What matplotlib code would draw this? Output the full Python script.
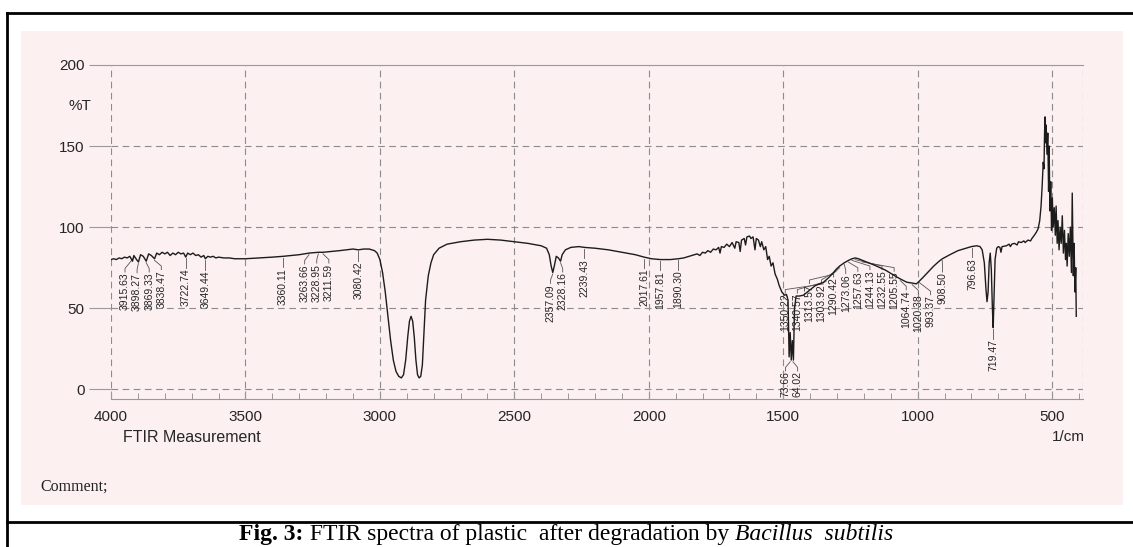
import numpy as np
import matplotlib
matplotlib.use("Agg")
import matplotlib.pyplot as plt
from matplotlib.lines import Line2D
from matplotlib.patches import Rectangle

# ---------------- data ----------------
wavenumber = [
    4000, 3990, 3980, 3970, 3960, 3950, 3940, 3930, 3920, 3915, 3905, 3898, 3890, 3880,
    3869, 3860, 3850, 3838, 3830, 3820, 3810, 3800, 3790, 3780, 3770, 3760, 3750, 3740,
    3730, 3722, 3715, 3705, 3695, 3685, 3675, 3665, 3655, 3649, 3640, 3630, 3620, 3610,
    3600, 3580, 3560, 3540, 3520, 3500, 3450, 3400, 3360, 3300, 3263, 3228, 3211, 3150,
    3100, 3080, 3060, 3040, 3030, 3020, 3010, 3000, 2990, 2980, 2970, 2960, 2950, 2940,
    2930, 2920, 2912, 2904, 2896, 2890, 2884, 2878, 2872, 2866, 2860, 2854, 2848, 2842,
    2836, 2830, 2820, 2810, 2800, 2780, 2750, 2700, 2650, 2600, 2550, 2500, 2450, 2400,
    2380, 2370, 2363, 2357, 2350, 2344, 2336, 2328, 2322, 2310, 2290, 2260, 2239, 2200,
    2150, 2100, 2050, 2017, 1990, 1957, 1920, 1890, 1870, 1850, 1830,
    1820, 1810, 1800, 1790, 1780, 1770, 1760, 1750, 1740, 1735, 1730, 1720, 1710, 1700,
    1690, 1680, 1675, 1665, 1660, 1655, 1645, 1640, 1635, 1625, 1620, 1612, 1605, 1600,
    1592, 1585, 1580, 1572, 1565, 1558, 1552, 1545, 1538, 1530, 1522, 1515, 1505, 1495,
    1488, 1482, 1478, 1474, 1470, 1466, 1462, 1458, 1452, 1440, 1425, 1410, 1395, 1380,
    1365, 1350, 1340, 1330, 1313, 1303, 1290, 1273, 1257, 1244, 1232, 1220, 1205, 1190,
    1175, 1160, 1140, 1120, 1100, 1080, 1064, 1040, 1020, 1005, 995, 980, 960, 940,
    920, 908, 880, 850, 820, 800, 780, 768, 760, 752, 746, 742, 738, 734, 730, 726,
    722, 719, 716, 712, 706, 700, 694, 690, 686, 670, 660, 655, 650, 640, 630, 625,
    615, 605, 600, 590, 580, 575, 566, 558, 552, 546, 541, 537, 533, 530, 528, 526,
    524, 522, 519, 516, 513, 511, 508, 505, 502, 499, 496, 492, 488, 485, 481, 478,
    474, 470, 466, 462, 458, 454, 450, 447, 444, 440, 436, 432, 428, 425, 421, 418,
    415, 412, 410,
]
transmittance = [
    80, 80.5, 80, 81, 80.5, 81.5, 81, 82, 79, 82.5, 80, 78.5, 83, 82,
    79, 83.5, 82.5, 80.5, 84, 83, 84.5, 83.5, 84.5, 82.5, 84, 83, 84.5, 83.5,
    84, 81.5, 84, 83, 84, 82.5, 83, 81.5, 82.5, 80.5, 82, 81.5, 82, 81,
    81.5, 81, 81, 80.5, 80.5, 80.5, 81, 81.5, 82, 83, 84, 84.5, 84.5, 85.5,
    86.5, 86, 86.5, 86.5, 86, 85.5, 84, 80, 72, 60, 45, 30, 18, 11,
    8, 7, 9, 18, 33, 42, 45, 42, 32, 18, 9, 7, 8, 15,
    35, 55, 70, 78, 83, 87, 89.5, 91, 92, 92.5, 92, 91, 90, 88.5,
    87, 83, 76, 72, 77, 82, 81, 79, 83, 86, 87.5, 88, 87.5, 87,
    86, 84.5, 83, 81.5, 80.5, 80, 80, 80.5, 81, 82, 83,
    83.5, 82.5, 84.5, 84, 85.5, 84.5, 86.5, 86, 87.5, 84, 88, 87.5, 89.5, 88,
    90.5, 87, 91, 90.5, 85, 92, 93, 89, 94, 94.5, 93, 94, 86, 93,
    92, 88, 91, 86, 88, 80, 82, 76, 78, 71, 68, 64, 60, 58,
    58.5, 55, 20, 35, 18, 30, 18, 50, 57.5, 57.5, 58, 60, 62, 64,
    65, 66, 67.5, 69, 72, 74, 76, 78, 79.5, 80.5, 81, 80.5, 79.5, 78.5,
    77.5, 76.5, 75, 73.5, 71.5, 69.5, 68, 66, 65.5, 65, 66.5, 69, 72.5, 76,
    79, 80.5, 83, 85.5, 87, 88, 88.5, 88, 86, 78, 62, 54, 60, 78, 84, 74,
    50, 38, 55, 80, 87, 88, 87.5, 84.5, 88, 88.5, 89.5, 88, 89.5, 90, 89, 91,
    90.5, 91.5, 90.5, 92, 91.5, 93, 95, 97, 99, 104, 113, 125, 140, 136, 158, 168,
    152, 163, 145, 158, 122, 150, 110, 128, 98, 118, 100, 112, 95, 113, 90, 104,
    86, 100, 90, 107, 84, 98, 80, 90, 76, 96, 82, 100, 72, 121, 70, 90,
    60, 75, 45,
]

peak_labels = [
    "3915.63", "3898.27", "3869.33", "3838.47", "3722.74", "3649.44",
    "3360.11", "3263.66", "3228.95", "3211.59", "3080.42",
    "2357.09", "2328.16", "2239.43", "2017.61", "1957.81", "1890.30",
    "73.66", "64.02",
    "1350.22", "1340.57", "1313.57", "1303.92", "1290.42", "1273.06",
    "1257.63", "1244.13", "1232.55", "1205.55",
    "1064.74", "1020.38", "993.37", "908.50", "796.63", "719.47",
]
peak_wavenumbers = [
    3915.63, 3898.27, 3869.33, 3838.47, 3722.74, 3649.44,
    3360.11, 3263.66, 3228.95, 3211.59, 3080.42,
    2357.09, 2328.16, 2239.43, 2017.61, 1957.81, 1890.30,
    1473.66, 1464.02,
    1350.22, 1340.57, 1313.57, 1303.92, 1290.42, 1273.06,
    1257.63, 1244.13, 1232.55, 1205.55,
    1064.74, 1020.38, 993.37, 908.50, 796.63, 719.47,
]

x_ticks = [4000, 3500, 3000, 2500, 2000, 1500, 1000, 500]
y_ticks = [0, 50, 100, 150, 200]

# ---------------- figure ----------------
W, H = 1133, 547
fig = plt.figure(figsize=(W / 100, H / 100), dpi=100)
fig.patch.set_facecolor("white")


def fx(px):
    return px / W


def fy(py):
    return 1 - py / H


SANS = ["Liberation Sans", "DejaVu Sans"]
NARROW = ["Liberation Sans Narrow", "Liberation Sans", "DejaVu Sans"]
SERIF = ["Liberation Serif", "DejaVu Serif"]
INK = "#262626"
GRID = "#8c8c8c"

# scanned paper
fig.patches.append(Rectangle((fx(21), fy(505)), fx(1123) - fx(21), fy(31) - fy(505),
                             transform=fig.transFigure, facecolor="#fcf0f1",
                             edgecolor="none", zorder=-5))
# outer frame
for (x0, y0, x1, y1) in [(7, 13, 1133, 13), (7, 13, 7, 547), (7, 522, 1133, 522)]:
    fig.add_artist(Line2D([fx(x0), fx(x1)], [fy(y0), fy(y1)], transform=fig.transFigure,
                          color="black", lw=2.0, solid_capstyle="projecting"))

xmin, xmax = 4000, 385
ymin, ymax = -6, 200
ax = fig.add_axes([fx(111), fy(399), fx(1083) - fx(111), fy(65) - fy(399)])
ax.set_zorder(2)
ax.set_facecolor("none")
ax.set_xlim(xmin, xmax)
ax.set_ylim(ymin, ymax)

for s in ["left", "right"]:
    ax.spines[s].set_visible(False)
ax.spines["top"].set_color("#9a9a9a")
ax.spines["top"].set_linewidth(0.8)
ax.spines["bottom"].set_color("#9a9a9a")
ax.spines["bottom"].set_linewidth(0.8)

# dashed grid
for yv in y_ticks[:-1]:
    ax.plot([xmin, xmax], [yv, yv], color=GRID, lw=0.8, ls=(0, (6, 4)), zorder=1)
for xv in x_ticks:
    ax.plot([xv, xv], [ymin, ymax], color=GRID, lw=0.8, ls=(0, (6, 4)), zorder=1)
ax.plot([xmax, xmax], [ymin, ymax], color=GRID, lw=0.8, ls=(0, (6, 4)), zorder=1)

# ticks
ax.set_yticks(y_ticks)
ax.set_yticklabels([str(v) for v in y_ticks])
ax.tick_params(axis="y", length=16, width=0.8, color="#9a9a9a", pad=3,
               labelsize=11, labelcolor=INK)
ax.set_xticks(x_ticks)
ax.set_xticklabels([str(v) for v in x_ticks])
ax.set_xticks(np.arange(4000, 399, -100), minor=True)
ax.tick_params(axis="x", which="major", direction="in", length=6, width=0.8,
               color="#9a9a9a", pad=8, labelsize=11, labelcolor=INK)
ax.tick_params(axis="x", which="minor", direction="in", length=4, width=0.7, color="#9a9a9a")
for lab in ax.get_xticklabels() + ax.get_yticklabels():
    lab.set_family(SANS)

# spectrum
ax.plot(wavenumber, transmittance, color="#1c1c1c", lw=1.0, zorder=4)

# peak labels
wn_arr = np.array(wavenumber, dtype=float)
t_arr = np.array(transmittance, dtype=float)
order = np.argsort(wn_arr)


def t_at(w):
    return float(np.interp(w, wn_arr[order], t_arr[order]))


def local_min(w, hw=12):
    m = (wn_arr >= w - hw) & (wn_arr <= w + hw)
    v = t_arr[m].min() if m.any() else t_at(w)
    return min(v, t_at(w))


def spread(pos, d, iters=600):
    p = list(pos)
    for _ in range(iters):
        moved = False
        for i in range(len(p) - 1):
            gap = p[i] - p[i + 1]
            if gap < d - 1e-6:
                s = (d - gap) / 2
                p[i] += s
                p[i + 1] -= s
                moved = True
        if not moved:
            break
    return p


tops = [local_min(w) - 7 for w in peak_wavenumbers]
label_x = [0.0] * len(peak_wavenumbers)
for tier in (True, False):
    idx = [i for i, t in enumerate(tops) if (t < 40) == tier]
    idx.sort(key=lambda i: -peak_wavenumbers[i])
    newp = spread([peak_wavenumbers[i] for i in idx], 45)
    for i, p in zip(idx, newp):
        label_x[i] = p

for txt, w, top, lx in zip(peak_labels, peak_wavenumbers, tops, label_x):
    yc = t_at(w) - 1.0
    if top < 40:
        yc = local_min(w) - 1.0
    ax.plot([w, lx, lx], [yc, top + 2.5, top + 0.3], color="#555555", lw=0.6, zorder=3)
    ax.text(lx, top, txt, rotation=90, ha="center", va="top", fontsize=7.5,
            family=NARROW, color=INK, zorder=5)

# other texts
ax.text(-0.0205, 175, "%T", transform=ax.get_yaxis_transform(), ha="right", va="center",
        fontsize=11, family=SANS, color=INK)
fig.text(fx(1052), fy(437), "1/cm", ha="left", va="center", fontsize=11, family=SANS, color=INK)
fig.text(fx(123), fy(437), "FTIR Measurement", ha="left", va="center", fontsize=11.5,
         family=SANS, color=INK)
fig.text(fx(40), fy(487), "Comment;", ha="left", va="center", fontsize=11.5,
         family=SERIF, color="#222222")

# caption with mixed styles
pieces = [("Fig. 3:", "bold", "normal"),
          (" FTIR spectra of plastic  after degradation by ", "normal", "normal"),
          ("Bacillus  subtilis", "normal", "italic")]
renderer = fig.canvas.get_renderer()
tmp = []
total = 0.0
for s, wgt, sty in pieces:
    t = fig.text(0, 0, s, fontsize=17, family=SERIF, weight=wgt, style=sty)
    bb = t.get_window_extent(renderer=renderer)
    tmp.append((t, bb.width))
    total += bb.width
x_px = 566 - total / 2
for t, wpx in tmp:
    t.set_position((fx(x_px), fy(540)))
    t.set_va("baseline")
    t.set_color("black")
    x_px += wpx

fig.savefig("out.png", dpi=100, facecolor="white")
